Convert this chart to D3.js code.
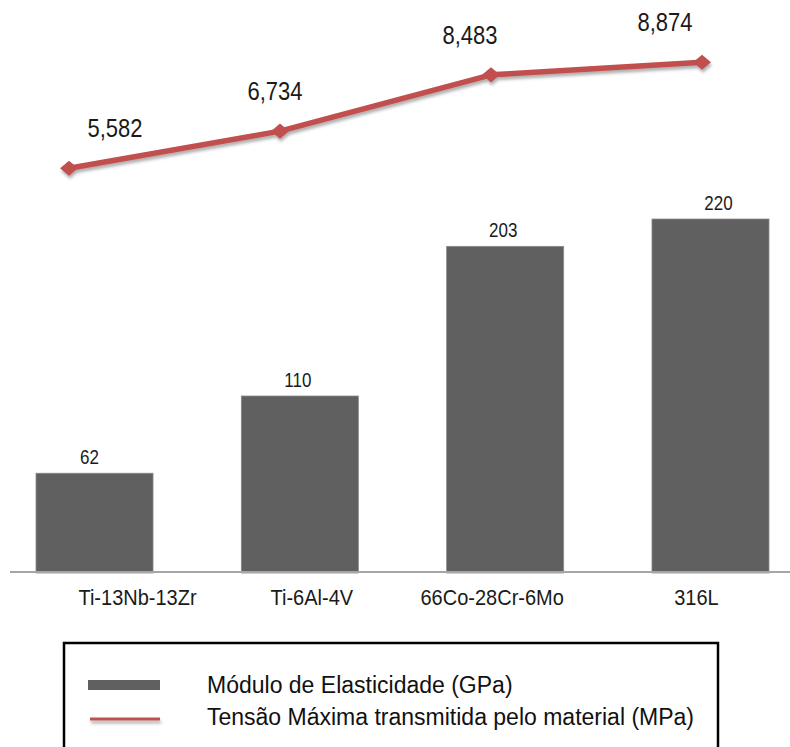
<!DOCTYPE html>
<html>
<head>
<meta charset="utf-8">
<script src="https://cdn.jsdelivr.net/npm/d3@7"></script>
<style>
  html, body { margin: 0; padding: 0; background: #fff; }
  svg { display: block; }
  text { font-family: "Liberation Sans", Arial, Helvetica, sans-serif; }
</style>
</head>
<body>
<script>
// ---- data ----
const categories = ["Ti-13Nb-13Zr", "Ti-6Al-4V", "66Co-28Cr-6Mo", "316L"];
const modulo = [62, 110, 203, 220];              // Módulo de Elasticidade (GPa)
const tensao = [5.582, 6.734, 8.483, 8.874];      // Tensão Máxima transmitida (MPa)
const tensaoLabels = ["5,582", "6,734", "8,483", "8,874"];
const legendLabels = ["Módulo de Elasticidade (GPa)", "Tensão Máxima transmitida pelo material (MPa)"];

// ---- label placement (layout, not data) ----
const lineLabelDx = [46, -5, -21, -37];
const barLabelDx = [-5, -2, -2, 8];
const catLabelDx = [43, 12, -13, -14];

const W = 790, H = 747;
const barColor = "#606060";
const lineColor = "#c0504d";

const svg = d3.select("body").append("svg").attr("width", W).attr("height", H);

const defs = svg.append("defs");
const f = defs.append("filter").attr("id", "shadow")
  .attr("filterUnits", "userSpaceOnUse")
  .attr("x", 0).attr("y", 0).attr("width", W).attr("height", H);
f.append("feDropShadow").attr("dx", 1).attr("dy", 3).attr("stdDeviation", 1.6)
  .attr("flood-color", "#555").attr("flood-opacity", 0.45);

// scales
const xBand = d3.scaleBand().domain(categories).range([36, 769]).paddingInner(0.43).paddingOuter(0);
const yBar = d3.scaleLinear().domain([0, 220]).range([573, 219]);
const xLine = d3.scalePoint().domain(categories).range([69, 702]);
const yLine = d3.scaleLinear().domain([0, 10]).range([348, 26]);

function stretchedText(sel, x, y, k) {
  return sel.attr("x", 0).attr("y", 0).attr("transform", `translate(${x},${y}) scale(1,${k})`);
}

// bars
svg.append("g").selectAll("rect").data(modulo).join("rect")
  .attr("x", (d, i) => xBand(categories[i]))
  .attr("y", d => yBar(d))
  .attr("width", xBand.bandwidth())
  .attr("height", d => yBar(0) - yBar(d))
  .attr("fill", barColor)
  .attr("stroke", "#8a8a8a").attr("stroke-width", 0.8);

// axis line
const xAxis = d3.axisBottom(xBand).tickSize(0).tickPadding(0).tickFormat(() => "");
const ax = svg.append("g").attr("transform", `translate(0,${yBar(0) - 1})`).call(xAxis);
ax.select(".domain").attr("d", `M10,0H790`).attr("stroke", "#a6a6a6").attr("stroke-width", 2);

// category labels
svg.append("g").selectAll("text").data(categories).join("text")
  .each(function (d, i) {
    stretchedText(d3.select(this), xBand(d) + xBand.bandwidth() / 2 + catLabelDx[i], 605, 1.1);
  })
  .attr("text-anchor", "middle").attr("font-size", 20).attr("fill", "#1a1a1a")
  .text(d => d);

// bar labels
svg.append("g").selectAll("text").data(modulo).join("text")
  .each(function (d, i) {
    stretchedText(d3.select(this), xBand(categories[i]) + xBand.bandwidth() / 2 + barLabelDx[i], yBar(d) - 9, 1.18);
  })
  .attr("text-anchor", "middle").attr("font-size", 17).attr("fill", "#1a1a1a")
  .text(d => d);

// line
const line = d3.line().x((d, i) => xLine(categories[i])).y(d => yLine(d));
const lg = svg.append("g").attr("filter", "url(#shadow)");
lg.append("path").datum(tensao).attr("d", line)
  .attr("fill", "none").attr("stroke", lineColor).attr("stroke-width", 5.5)
  .attr("stroke-linejoin", "round");
const diamond = d3.symbol().type(d3.symbolSquare).size(160);
lg.selectAll("path.m").data(tensao).join("path").attr("class", "m")
  .attr("d", diamond)
  .attr("transform", (d, i) => `translate(${xLine(categories[i])},${yLine(d)}) scale(1,0.85) rotate(45)`)
  .attr("fill", lineColor);

// line labels
svg.append("g").selectAll("text").data(tensao).join("text")
  .each(function (d, i) {
    stretchedText(d3.select(this), xLine(categories[i]) + lineLabelDx[i], yLine(d) - 31, 1.18);
  })
  .attr("text-anchor", "middle").attr("font-size", 22).attr("fill", "#1a1a1a")
  .text((d, i) => tensaoLabels[i]);

// legend
const leg = svg.append("g");
leg.append("rect").attr("x", 64).attr("y", 643).attr("width", 654).attr("height", 120)
  .attr("fill", "#fff").attr("stroke", "#000").attr("stroke-width", 2.5);
leg.append("rect").attr("x", 88).attr("y", 680).attr("width", 72).attr("height", 10)
  .attr("fill", barColor);
leg.append("rect").attr("x", 90).attr("y", 717.5).attr("width", 70).attr("height", 3)
  .attr("fill", lineColor).attr("filter", "url(#shadow)");
leg.selectAll("text").data(legendLabels).join("text")
  .attr("x", 207).attr("y", (d, i) => 693 + i * 32)
  .attr("font-size", 23).attr("fill", "#111")
  .text(d => d);
</script>
</body>
</html>
